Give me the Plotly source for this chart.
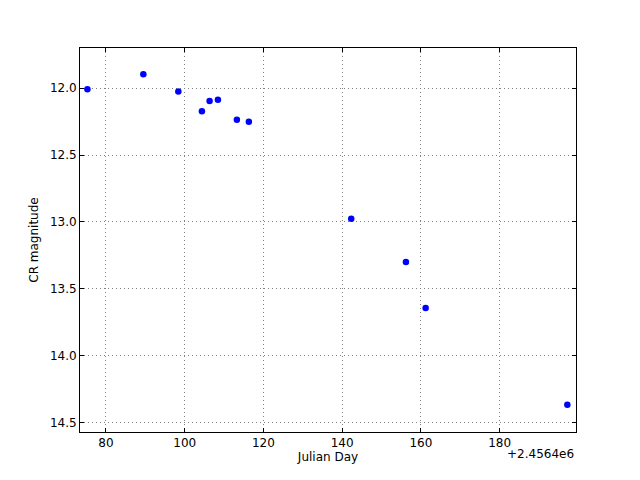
import plotly.graph_objects as go

OFFSET = 2456400
julian_day = [2456475.28, 2456489.49, 2456498.38, 2456504.37, 2456506.32, 2456508.43,
              2456513.25, 2456516.29, 2456542.3, 2456556.2, 2456561.2, 2456597.2]
cr_mag = [12.007, 11.895, 12.025, 12.172, 12.095, 12.087,
          12.235, 12.250, 12.977, 13.30, 13.644, 14.368]
x_ticks = [80, 100, 120, 140, 160, 180]
y_ticks = [12.0, 12.5, 13.0, 13.5, 14.0, 14.5]

x_rel = [v - OFFSET for v in julian_day]

fig = go.Figure()
fig.add_trace(go.Scatter(
    x=x_rel, y=cr_mag, mode="markers",
    marker=dict(color="#0000ff", size=6.5, line=dict(color="#0000ff", width=0)),
    showlegend=False,
))

font = dict(family="DejaVu Sans", size=12, color="black")
axis_common = dict(
    showline=True, linecolor="black", linewidth=1, mirror="ticks",
    ticks="inside", ticklen=4, tickcolor="black", tickwidth=1,
    showgrid=True, gridcolor="#808080", griddash="1px,3px", gridwidth=1,
    zeroline=False, tickfont=font,
)
fig.update_xaxes(range=[73.4, 199.4], tickvals=x_ticks, ticktext=[str(t) for t in x_ticks],
                 title=dict(text="Julian Day", font=font, standoff=3), **axis_common)
fig.update_yaxes(range=[14.572, 11.699], tickvals=y_ticks, ticktext=[f"{t:.1f}" for t in y_ticks],
                 title=dict(text="CR magnitude", font=font, standoff=8), **axis_common)

fig.add_annotation(text="+2.4564e6", xref="paper", yref="paper", x=1, y=0,
                   xanchor="right", yanchor="top", yshift=-13, showarrow=False,
                   font=dict(family="DejaVu Sans", size=12, color="black"))

fig.update_layout(
    width=632, height=472,
    margin=dict(l=72, r=64, t=40, b=48),
    paper_bgcolor="white", plot_bgcolor="white",
    font=font,
)
fig.write_html("out.html")
